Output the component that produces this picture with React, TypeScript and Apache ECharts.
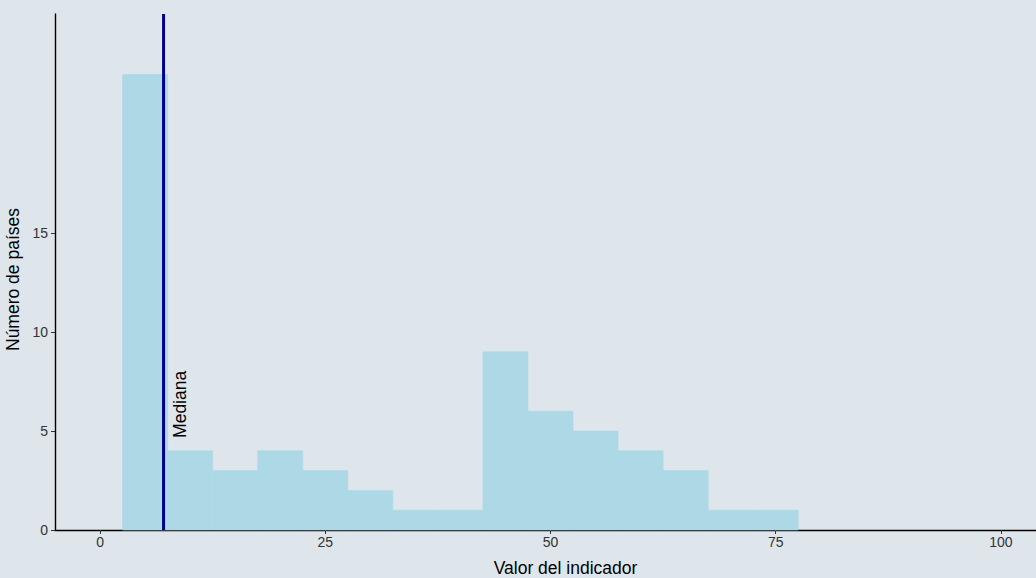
import React, { useEffect, useRef } from "react";
import * as echarts from "echarts";

// Histogram bins (lower edge) and counts
const binStarts = [2.5, 7.5, 12.5, 17.5, 22.5, 27.5, 32.5, 37.5, 42.5, 47.5, 52.5, 57.5, 62.5, 67.5, 72.5];
const binWidth = 5;
const counts = [23, 4, 3, 4, 3, 2, 1, 1, 9, 6, 5, 4, 3, 1, 1];
const medianValue = 7.05;
const medianLabel = "Mediana";
const medianLabelY = 4.65;
const xTicks = [0, 25, 50, 75, 100];
const yTicks = [0, 5, 10, 15];
const xMin = -5;
const xMax = 105;
const yMax = 26.06;

const FONT = "'Liberation Sans', Arial, Helvetica, sans-serif";

export default function App() {
  const ref = useRef<HTMLDivElement>(null);
  useEffect(() => {
    if (!ref.current) return;
    const chart = echarts.init(ref.current, null, { renderer: "svg" });
    const histData = binStarts.map((s, i) => [s, s + binWidth, counts[i]]);
    chart.setOption({
      animation: false,
      backgroundColor: "#dfe6eb",
      textStyle: { fontFamily: FONT },
      grid: { left: 55, top: 14, width: 991, bottom: 48, containLabel: false, outerBoundsMode: "none" },
      xAxis: {
        type: "value",
        min: xMin,
        max: xMax,
        splitLine: { show: false },
        axisLine: { show: true, onZero: false, lineStyle: { color: "#000", width: 1.4 } },
        axisTick: { show: true, length: 4, customValues: xTicks, lineStyle: { color: "#333" } },
        axisLabel: { customValues: xTicks, color: "#333", fontSize: 14, margin: 5, fontFamily: FONT },
        name: "Valor del indicador",
        nameLocation: "middle",
        nameGap: 29,
        nameTextStyle: { color: "#000", fontSize: 17.5, fontFamily: FONT, padding: [0, 0, 0, 30] },
      },
      yAxis: {
        type: "value",
        min: 0,
        max: yMax,
        splitLine: { show: false },
        axisLine: { show: true, onZero: false, lineStyle: { color: "#000", width: 1.4 } },
        axisTick: { show: true, length: 4, customValues: yTicks, lineStyle: { color: "#333" } },
        axisLabel: { customValues: yTicks, color: "#333", fontSize: 14, margin: 7, fontFamily: FONT },
        name: "Número de países",
        nameLocation: "middle",
        nameGap: 29,
        nameTextStyle: { color: "#000", fontSize: 17.5, fontFamily: FONT, padding: [0, 15, 0, 0] },
      },
      series: [
        {
          type: "custom",
          data: histData,
          encode: { x: [0, 1], y: 2 },
          renderItem: (params: any, api: any) => {
            const lo = api.value(0);
            const hi = api.value(1);
            const c = api.value(2);
            const p1 = api.coord([lo, c]);
            const p2 = api.coord([hi, 0]);
            return {
              type: "rect",
              shape: { x: p1[0], y: p1[1], width: p2[0] - p1[0], height: p2[1] - p1[1] },
              style: { fill: "#add8e6", stroke: "#add8e6", lineWidth: 0.6 },
            };
          },
        },
        {
          type: "custom",
          data: [[medianValue, medianLabelY]],
          encode: { x: 0, y: 1 },
          renderItem: (params: any, api: any) => {
            const m = api.value(0);
            const ly = api.value(1);
            const top = api.coord([m, yMax]);
            const bot = api.coord([m, 0]);
            const lp = api.coord([m, ly]);
            return {
              type: "group",
              children: [
                {
                  type: "line",
                  shape: { x1: top[0], y1: top[1], x2: bot[0], y2: bot[1] },
                  style: { stroke: "#00008b", lineWidth: 3 },
                },
                {
                  type: "text",
                  x: lp[0] + 16,
                  y: lp[1],
                  rotation: Math.PI / 2,
                  style: {
                    text: medianLabel,
                    fontSize: 17.5,
                    fontFamily: FONT,
                    fill: "#000",
                    align: "left",
                    verticalAlign: "middle",
                  },
                },
              ],
            };
          },
        },
      ],
    });
    return () => chart.dispose();
  }, []);
  return (
    <div
      ref={ref}
      style={{ position: "absolute", left: 0, top: 0, width: 1036, height: 578, background: "#dfe6eb" }}
    />
  );
}
